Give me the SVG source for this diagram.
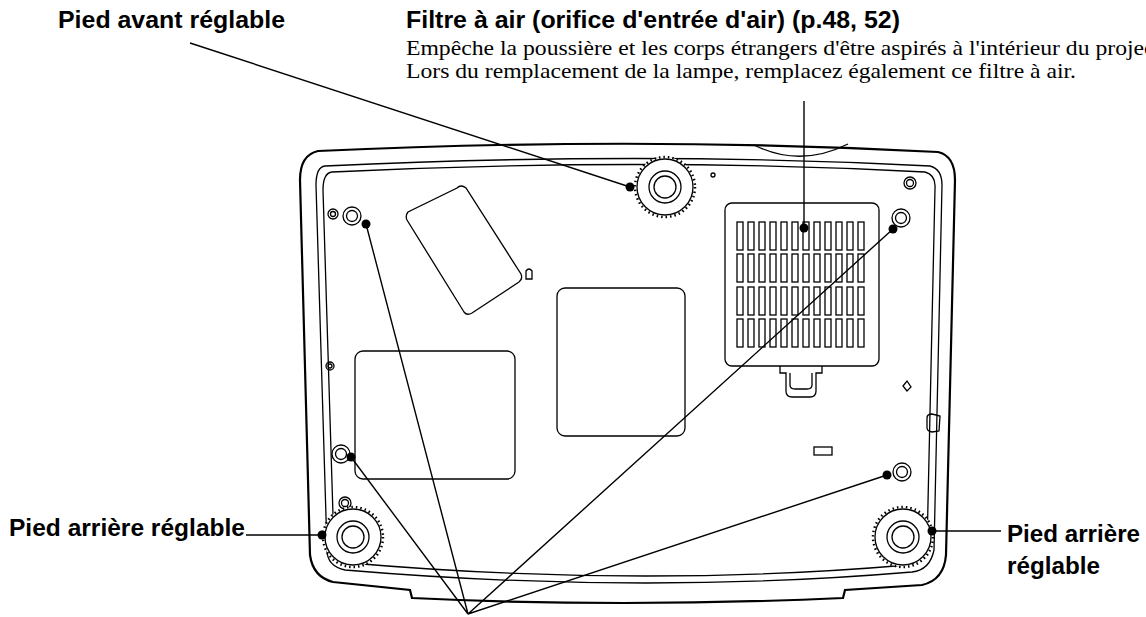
<svg xmlns="http://www.w3.org/2000/svg" width="1146" height="617" viewBox="0 0 1146 617">
<style>
.l{fill:none;stroke:#000;stroke-width:1.3}
.b{fill:none;stroke:#000;stroke-width:2.2}
.w{fill:#fff;stroke:#000;stroke-width:1.3}
.t{font-family:"Liberation Sans",Arial,sans-serif;font-weight:bold;font-size:23px}
.s{font-family:"Liberation Serif","Times New Roman",serif;font-size:22px}
.ld{fill:none;stroke:#000;stroke-width:1.4}
</style>
<defs>
<g id="foot">
<circle r="30" fill="#fff" stroke="#000" stroke-width="2.5" stroke-dasharray="1.5 3"/>
<circle r="28" class="w"/>
<circle r="16" class="l"/>
<circle r="11" class="l"/>
</g>
</defs>
<g id="body">
<path class="b" d="M318,151 Q640,136 938,152 Q955,156 955,180 L946,555 Q944,580 922,585 L845,590 L843,598 Q620,608 412,598 L410,590 L333,582 Q313,577 310,555 L300,180 Q300,155 318,151 Z"/>
<path class="l" d="M325,166 Q640,151 930,166 Q942,169 942,185 L934,550 Q930,570 912,572 Q640,595 345,570 Q327,566 327,550 L316,185 Q316,167 325,166 Z"/>
<path class="l" d="M332,172 Q640,157 925,172 Q936,175 935,188 L927,548 Q923,562 908,565 Q640,588 350,563 Q335,560 334,548 L323,190 Q323,173 332,172 Z"/>
<path class="l" d="M754,145 Q800,168 848,144"/>
<path class="l" d="M466,188 Q461,184 457,188 L408,212 Q405,216 407,220 L464,312 Q467,316 472,313 L519,282 Q523,279 521,274 Z"/>
<path class="l" d="M526,279 L526,271 Q529,267 532,271 L532,279 Z"/>
<rect x="557" y="288" width="128" height="148" rx="8" class="l"/>
<rect x="355" y="351" width="160" height="128" rx="8" class="l"/>
<rect x="725" y="203" width="154" height="163" rx="7" class="l"/>
<g class="l">
<path d="M780,366 L780,373 L786,373 L786,391 Q786,397 792,397 L810,397 Q816,397 816,391 L816,373 L822,373 L822,366"/>
<path d="M790,373 L790,385 Q790,389 795,389 L807,389 Q812,389 812,385 L812,373"/>
</g>
<g id="slots" class="l">
<rect x="737" y="222" width="6" height="28"/><rect x="748" y="222" width="6" height="28"/><rect x="759" y="222" width="6" height="28"/><rect x="770" y="222" width="6" height="28"/><rect x="781" y="222" width="6" height="28"/><rect x="792" y="222" width="6" height="28"/><rect x="803" y="222" width="6" height="28"/><rect x="814" y="222" width="6" height="28"/><rect x="825" y="222" width="6" height="28"/><rect x="836" y="222" width="6" height="28"/><rect x="847" y="222" width="6" height="28"/><rect x="858" y="222" width="6" height="28"/>
</g>
<use href="#slots" y="32"/><use href="#slots" y="65"/><use href="#slots" y="97"/>
<rect x="814" y="447" width="18" height="8" class="l"/>
<path class="l" d="M903,386 L907,381 L911,387 L907,391 Z"/>
<path class="l" d="M927,418 Q927,414 932,414 L940,416 L939,431 L932,432 Q927,431 927,428 Z"/>
<circle cx="352" cy="216" r="9" class="l"/><circle cx="352" cy="216" r="5.5" class="l"/>
<circle cx="333" cy="214" r="5" class="l"/><circle cx="333" cy="214" r="2.5" class="l"/>
<circle cx="901" cy="218" r="9" class="l"/><circle cx="901" cy="218" r="5.5" class="l"/>
<circle cx="910" cy="183" r="6" class="l"/><circle cx="910" cy="183" r="3.5" class="l"/>
<circle cx="713" cy="175" r="2" class="l"/>
<circle cx="341" cy="454" r="9" class="l"/><circle cx="341" cy="454" r="5.5" class="l"/>
<circle cx="902" cy="472" r="9" class="l"/><circle cx="902" cy="472" r="5.5" class="l"/>
<circle cx="345" cy="503" r="6" class="l"/><circle cx="345" cy="503" r="3.5" class="l"/>
<circle cx="330" cy="366" r="4" class="l"/><circle cx="330" cy="366" r="2" class="l"/>
</g>
<g id="feet">
<use href="#foot" x="665" y="187"/>
<use href="#foot" x="353" y="537"/>
<use href="#foot" x="903" y="537"/>
</g>
<g id="connectors">
<path class="ld" d="M190,43 L630,187"/>
<path class="ld" d="M804,101 L804,228"/>
<path class="ld" d="M246,535 L322,535"/>
<path class="ld" d="M932,531 L1001,531"/>
<path class="ld" d="M366,224 L468,614 M351,457 L468,614 M893,229 L468,614 M887,475 L468,614"/>
<g fill="#000">
<circle cx="630" cy="187" r="4.5"/><circle cx="804" cy="228" r="4.5"/>
<circle cx="322" cy="535" r="4.5"/><circle cx="932" cy="531" r="4.5"/>
<circle cx="366" cy="224" r="4.5"/><circle cx="351" cy="457" r="4.5"/>
<circle cx="893" cy="229" r="4.5"/><circle cx="887" cy="475" r="4.5"/>
</g>
</g>
<g id="labels">
<text x="58" y="28" class="t" textLength="227" lengthAdjust="spacingAndGlyphs">Pied avant réglable</text>
<text x="406" y="28" class="t" textLength="494" lengthAdjust="spacingAndGlyphs">Filtre à air (orifice d'entrée d'air) (p.48, 52)</text>
<text x="406" y="55" class="s" textLength="790" lengthAdjust="spacingAndGlyphs">Empêche la poussière et les corps étrangers d'être aspirés à l'intérieur du projecteur.</text>
<text x="406" y="78" class="s" textLength="670" lengthAdjust="spacingAndGlyphs">Lors du remplacement de la lampe, remplacez également ce filtre à air.</text>
<text x="9" y="536" class="t" textLength="236" lengthAdjust="spacingAndGlyphs">Pied arrière réglable</text>
<text x="1007" y="542" class="t" textLength="133" lengthAdjust="spacingAndGlyphs">Pied arrière</text>
<text x="1007" y="574" class="t" textLength="93" lengthAdjust="spacingAndGlyphs">réglable</text>
</g>
</svg>
